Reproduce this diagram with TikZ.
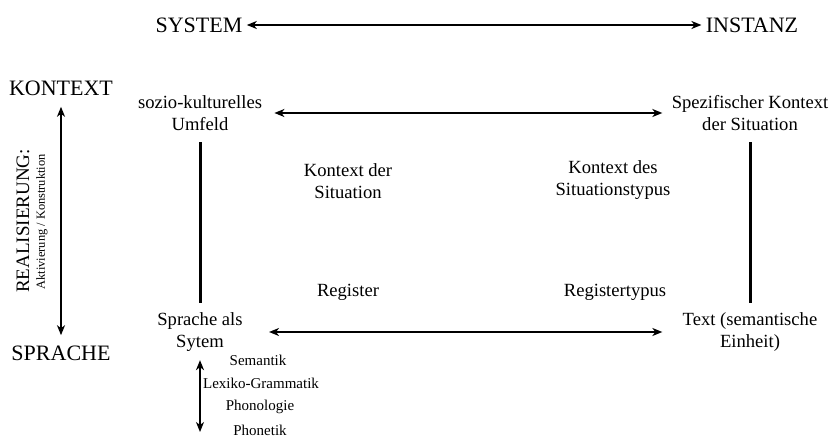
\documentclass[tikz,border=0pt]{standalone}
\usepackage{fontspec}
\setmainfont{Liberation Serif}
\usetikzlibrary{arrows.meta,positioning}

\tikzset{
  head/.style={font=\fontsize{11}{13}\selectfont, inner sep=2pt},
  lbl/.style={align=center, font=\fontsize{9.3}{11.3}\selectfont, inner sep=2pt},
  ebene/.style={font=\fontsize{7.5}{9}\selectfont, inner sep=1pt},
  dbl/.style={{Stealth[length=5pt,width=4pt,inset=1.5pt]}-{Stealth[length=5pt,width=4pt,inset=1.5pt]}, line width=0.9pt},
  bar/.style={line width=1.5pt}
}

\begin{document}
\begin{tikzpicture}[x=0.5pt,y=-0.5pt]
\useasboundingbox (0,0) rectangle (834,437);
% Achsen
\node[head] (sys) at (199,25) {SYSTEM};
\node[head] (inst) at (752,25) {INSTANZ};
\node[head] (kon) at (61,88) {KONTEXT};
\node[head] (spr) at (61,353) {SPRACHE};
\node[rotate=90, font=\fontsize{9.5}{11}\selectfont] (real) at (23,221) {REALISIERUNG:};
\node[rotate=90, font=\fontsize{6.2}{7.5}\selectfont] (akt) at (42,222) {Aktivierung / Konstruktion};
% Ecken
\node[lbl] (soz) at (200,113) {sozio-kulturelles\\Umfeld};
\node[lbl] (spez) at (750,113) {Spezifischer Kontext\\der Situation};
\node[lbl] (spra) at (200,332) {Sprache als\\Sytem};
\node[lbl] (text) at (750,332) {Text (semantische\\Einheit)};
% Mitte
\node[lbl] (kds) at (348,181) {Kontext der\\Situation};
\node[lbl] (kdst) at (613,180) {Kontext des\\Situationstypus};
\node[lbl] (reg) at (348,292) {Register};
\node[lbl] (regt) at (615,292) {Registertypus};
% Ebenen
\node[ebene] (sem) at (258,360) {Semantik};
\node[ebene] (lex) at (261,383) {Lexiko-Grammatik};
\node[ebene] (phonol) at (260,407) {Phonologie};
\node[ebene] (phonet) at (260,430) {Phonetik};
\coordinate (unten) at (200,432);

\draw[dbl] (sys) -- (inst);
\draw[dbl, shorten <=3.5pt, shorten >=3pt] (kon) -- (spr);
\draw[dbl, shorten <=4pt, shorten >=2.5pt] (soz.east) -- (spez.west |- soz.east);
\draw[dbl, shorten <=11pt, shorten >=8pt] (spra.east) -- (text.west |- spra.east);
\draw[bar, shorten <=3.5pt, shorten >=2.5pt] (soz) -- (spra);
\draw[bar, shorten <=3.5pt, shorten >=2.5pt] (spez) -- (text);
\draw[dbl, line width=0.6pt, shorten <=2pt] (spra.south) -- (unten);
\end{tikzpicture}
\end{document}
